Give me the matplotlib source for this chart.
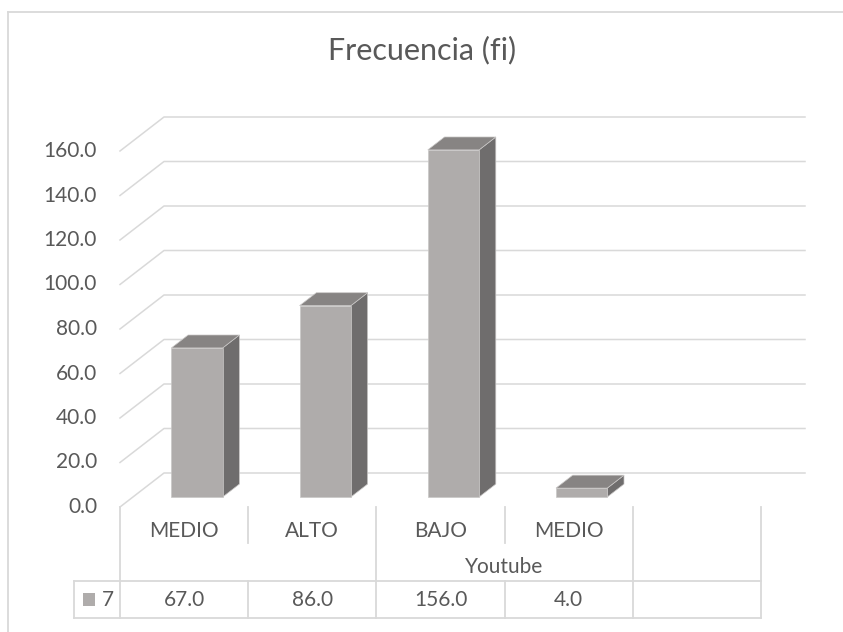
import matplotlib
matplotlib.use("Agg")
import matplotlib.pyplot as plt
from matplotlib.patches import Polygon, Rectangle
from matplotlib.lines import Line2D

plt.rcParams['font.family'] = ['Lato', 'DejaVu Sans']

# data
categories = ["MEDIO", "ALTO", "BAJO", "MEDIO", ""]
group_labels = ["", "Youtube", ""]
group_spans = [(0, 2), (2, 4), (4, 5)]
series_name = "7"
values = [67.0, 86.0, 156.0, 4.0, None]
y_ticks = [0, 20, 40, 60, 80, 100, 120, 140, 160]

W, H = 843, 632
fig = plt.figure(figsize=(W / 100, H / 100), dpi=100)

# front plane of the plot area, in pixels
px_left, px_right = 120, 761
px_bottom, px_top = 507, 151
ax = fig.add_axes([px_left / W, 1 - px_bottom / H,
                   (px_right - px_left) / W, (px_bottom - px_top) / H])
ncat = len(categories)
ax.set_xlim(0, ncat)
ax.set_ylim(0, 160)
ax.axis('off')

# oblique depth offset in data units
DX = 44 / ((px_right - px_left) / ncat)
DY = 34 / ((px_bottom - px_top) / 160)

grid_c = '#D9D9D9'
text_c = '#595959'

# gridlines: diagonal on the side wall + horizontal on the back wall
for v in y_ticks:
    ax.add_line(Line2D([0, DX, ncat + DX], [v, v + DY, v + DY],
                       color=grid_c, lw=1.1, clip_on=False, zorder=1))
    ax.text(-23 / 128.2, v, f"{v:.1f}", ha='right', va='center',
            fontsize=15, color=text_c, clip_on=False)

# 3D columns
front_c, side_c, top_c = '#AFACAB', '#6F6D6D', '#878483'
bw = 0.4
d_front = 0.294
d_depth = 0.38
for i, v in enumerate(values):
    if v is None:
        continue
    x0 = i + 0.5 - bw / 2 + d_front * DX
    x1 = x0 + bw
    y0 = d_front * DY
    ox, oy = d_depth * DX, d_depth * DY
    side = [(x1, y0), (x1 + ox, y0 + oy), (x1 + ox, y0 + v + oy), (x1, y0 + v)]
    top = [(x0, y0 + v), (x1, y0 + v), (x1 + ox, y0 + v + oy), (x0 + ox, y0 + v + oy)]
    front = [(x0, y0), (x1, y0), (x1, y0 + v), (x0, y0 + v)]
    for pts, c in ((side, side_c), (top, top_c), (front, front_c)):
        ax.add_patch(Polygon(pts, closed=True, facecolor=c, edgecolor='#C9C7C6',
                             lw=0.5, zorder=3, clip_on=False))

# data table below the axis
def fy(py):
    return 1 - py / H

def fx(px):
    return px / W

cat_w = (px_right - px_left) / ncat
edges = [px_left + k * cat_w for k in range(ncat + 1)]
row1_top, row1_bot, row3_top, row3_bot = 507, 543, 581, 618

def vline(x, y0, y1):
    fig.add_artist(Line2D([fx(x), fx(x)], [fy(y0), fy(y1)], color=grid_c, lw=1.3))

def hline(x0, x1, y):
    fig.add_artist(Line2D([fx(x0), fx(x1)], [fy(y), fy(y)], color=grid_c, lw=1.3))

group_edges = set()
for a, b in group_spans:
    group_edges.add(a)
    group_edges.add(b)
for k, x in enumerate(edges):
    if k in group_edges:
        vline(x, row1_top, row3_bot)
    else:
        vline(x, row1_top, row1_bot)
        vline(x, row3_top, row3_bot)
hline(74, edges[-1], row3_top)
hline(74, edges[-1], row3_bot)
vline(74, row3_top, row3_bot)

for k, lab in enumerate(categories):
    cx = (edges[k] + edges[k + 1]) / 2
    fig.text(fx(cx), fy(531), lab, ha='center', va='center', fontsize=15, color=text_c)
    if values[k] is not None:
        fig.text(fx(cx), fy(600), f"{values[k]:.1f}", ha='center', va='center',
                 fontsize=15, color=text_c)
for (a, b), lab in zip(group_spans, group_labels):
    cx = (edges[a] + edges[b]) / 2
    fig.text(fx(cx), fy(567), lab, ha='center', va='center', fontsize=15, color=text_c)

# legend key in the table
fig.add_artist(Rectangle((fx(83), fy(606)), fx(12), 13 / H, facecolor=front_c,
                         edgecolor='none'))
fig.text(fx(102), fy(600), series_name, ha='left', va='center', fontsize=15, color=text_c)

# title and chart border
fig.text(fx(422), fy(50), "Frecuencia (fi)", ha='center', va='center',
         fontsize=22, color=text_c)
fig.add_artist(Line2D([fx(8), fx(8)], [fy(12), 0], color=grid_c, lw=1.3))
fig.add_artist(Line2D([fx(8), 1], [fy(12), fy(12)], color=grid_c, lw=1.3))

fig.savefig("out.png", dpi=100)
